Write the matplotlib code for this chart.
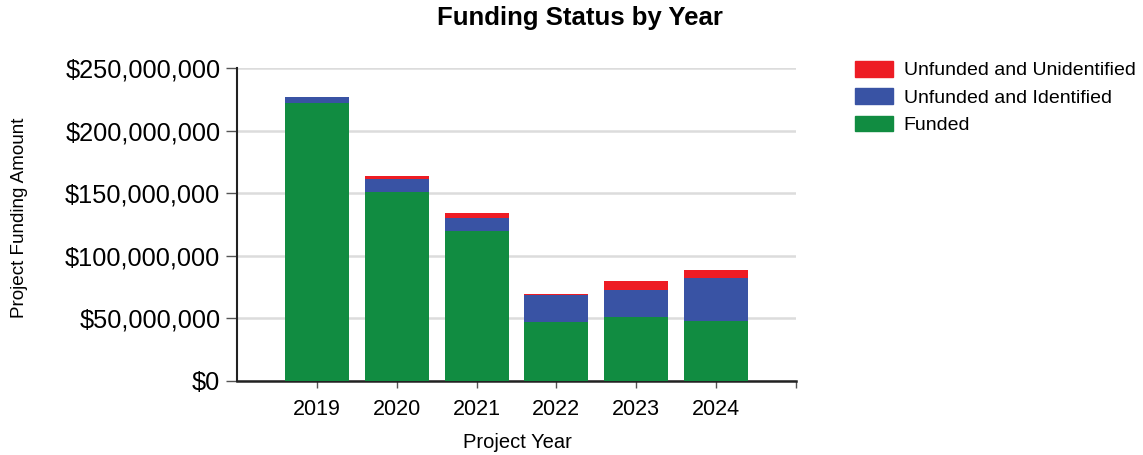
import matplotlib
matplotlib.use("Agg")
import matplotlib.pyplot as plt
from matplotlib.ticker import FuncFormatter
from matplotlib.patches import Patch
import numpy as np

years = ["2019", "2020", "2021", "2022", "2023", "2024"]
funded = [222e6, 151e6, 120e6, 47e6, 51e6, 48e6]
unfunded_identified = [4.5e6, 10.5e6, 10.5e6, 21.5e6, 21.5e6, 34.5e6]
unfunded_unidentified = [0.0, 2.0e6, 4.0e6, 1.3e6, 7.5e6, 6.0e6]

c_green = "#118C41"
c_blue = "#3953A4"
c_red = "#ED1C24"

plt.rcParams['font.family'] = ['Liberation Sans', 'DejaVu Sans']

fig = plt.figure(figsize=(11.43, 4.55), dpi=100)
ax = fig.add_axes([237/1143, 1-381/455, (796-237)/1143, (381-68)/455])

x = np.arange(len(years))
f = np.array(funded)
ui = np.array(unfunded_identified)
uu = np.array(unfunded_unidentified)
w = 0.8
ax.bar(x, f, width=w, color=c_green, zorder=3)
ax.bar(x, ui, width=w, bottom=f, color=c_blue, zorder=3)
ax.bar(x, uu, width=w, bottom=f+ui, color=c_red, zorder=3)

ax.set_xlim(-1, 6)
ax.set_ylim(0, 250e6)
ax.set_yticks(np.arange(0, 250e6+1, 50e6))
ax.yaxis.set_major_formatter(FuncFormatter(lambda v, p: "${:,.0f}".format(v)))
ax.set_xticks(x)
ax.set_xticklabels(years)
ax.set_xticks([5.995], minor=True)
ax.tick_params(axis='y', labelsize=18.3, length=8, width=1, color='#555555', pad=4)
ax.tick_params(axis='x', labelsize=15.5, length=5, width=1, color='#555555', pad=8)
ax.tick_params(axis='x', which='minor', length=5, width=1, color='#555555')

ax.grid(axis='y', color='#dcdcdc', linewidth=1.8, zorder=0)
ax.set_axisbelow(True)
for s in ['top', 'right']:
    ax.spines[s].set_visible(False)
ax.spines['left'].set_color('#222222')
ax.spines['bottom'].set_color('#222222')
ax.spines['left'].set_linewidth(1.5)
ax.spines['bottom'].set_linewidth(1.8)

fig.text(517/1143, 1-442/455, "Project Year", fontsize=14.5, ha='center', va='center')
fig.text(20/1143, 1-218/455, "Project Funding Amount", rotation=90, fontsize=13.6,
         ha='center', va='center')
fig.text(580/1143, 1-18/455, "Funding Status by Year", fontsize=18.5, fontweight='bold',
         ha='center', va='center')

handles = [Patch(color=c_red, label="Unfunded and Unidentified"),
           Patch(color=c_blue, label="Unfunded and Identified"),
           Patch(color=c_green, label="Funded")]
fig.legend(handles=handles, loc='upper left', bbox_to_anchor=(855/1143, 1-61/455),
           frameon=False, fontsize=14, handlelength=1.95, handleheight=0.85,
           handletextpad=0.55, labelspacing=0.46, borderaxespad=0, borderpad=0)

fig.savefig("out.png", dpi=100)
